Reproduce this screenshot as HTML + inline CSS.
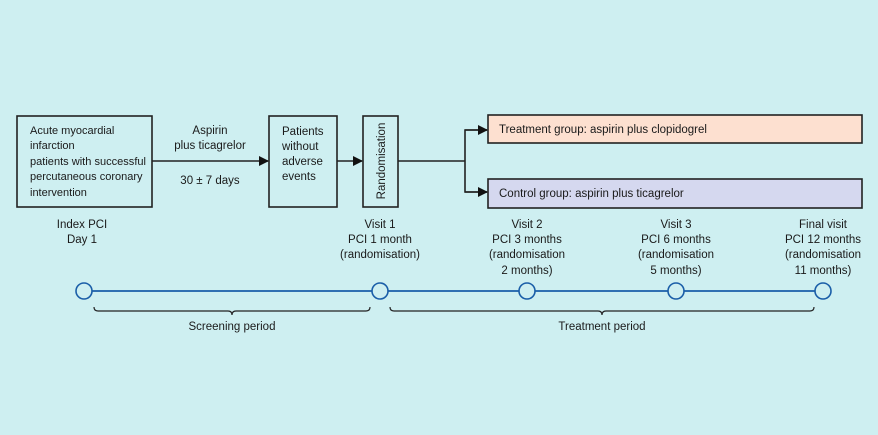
<!DOCTYPE html>
<html><head><meta charset="utf-8"><style>
html,body{margin:0;padding:0;background:#ceeff1;}
svg{display:block;}
text{font-family:"Liberation Sans",sans-serif;font-size:11.5px;fill:#1a1a1a;}
.s{font-size:11px;}
</style></head><body>
<svg width="878" height="435" viewBox="0 0 878 435" xmlns="http://www.w3.org/2000/svg">
<rect width="878" height="435" fill="#ceeff1"/>
<defs><marker id="a" markerWidth="10" markerHeight="10" refX="9" refY="5" orient="auto" markerUnits="userSpaceOnUse"><path d="M0,0 L10,5 L0,10 Z" fill="#111"/></marker></defs>
<g stroke="#222" stroke-width="1.6" fill="none">
<rect x="17" y="116" width="135" height="91"/>
<rect x="269" y="116" width="68" height="91"/>
<rect x="363" y="116" width="35" height="91"/>
<rect x="488" y="115" width="374" height="28" fill="#fde0d0"/>
<rect x="488" y="179" width="374" height="29" fill="#d5d8ef"/>
<line x1="152" y1="161" x2="268" y2="161" marker-end="url(#a)"/>
<line x1="337" y1="161" x2="362" y2="161" marker-end="url(#a)"/>
<line x1="398" y1="161" x2="465" y2="161"/>
<path d="M487,130 H465 V192 H487" />
<line x1="465" y1="130" x2="487" y2="130" marker-end="url(#a)"/>
<line x1="465" y1="192" x2="487" y2="192" marker-end="url(#a)"/>
</g>
<text class="s" x="30" y="134">Acute myocardial</text>
<text class="s" x="30" y="149">infarction</text>
<text class="s" x="30" y="165" textLength="116" lengthAdjust="spacingAndGlyphs">patients with successful</text>
<text class="s" x="30" y="180">percutaneous coronary</text>
<text class="s" x="30" y="196">intervention</text>
<g text-anchor="middle">
<text x="210" y="134">Aspirin</text>
<text x="210" y="149">plus ticagrelor</text>
<text x="210" y="184">30 ± 7 days</text>
</g>
<text x="282" y="135">Patients</text>
<text x="282" y="150">without</text>
<text x="282" y="165">adverse</text>
<text x="282" y="180">events</text>
<text transform="translate(385,161) rotate(-90)" text-anchor="middle">Randomisation</text>
<text x="499" y="133">Treatment group: aspirin plus clopidogrel</text>
<text x="499" y="197">Control group: aspirin plus ticagrelor</text>
<g text-anchor="middle">
<text x="82" y="228">Index PCI</text><text x="82" y="243">Day 1</text>
<text x="380" y="228">Visit 1</text><text x="380" y="243">PCI 1 month</text><text x="380" y="258">(randomisation)</text>
<text x="527" y="228">Visit 2</text><text x="527" y="243">PCI 3 months</text><text x="527" y="258">(randomisation</text><text x="527" y="274">2 months)</text>
<text x="676" y="228">Visit 3</text><text x="676" y="243">PCI 6 months</text><text x="676" y="258">(randomisation</text><text x="676" y="274">5 months)</text>
<text x="823" y="228">Final visit</text><text x="823" y="243">PCI 12 months</text><text x="823" y="258">(randomisation</text><text x="823" y="274">11 months)</text>
<text x="232" y="330">Screening period</text>
<text x="602" y="330">Treatment period</text>
</g>
<line x1="84" y1="291" x2="823" y2="291" stroke="#1a5ea8" stroke-width="1.8"/>
<g fill="#ceeff1" stroke="#1a5ea8" stroke-width="1.6">
<circle cx="84" cy="291" r="8"/><circle cx="380" cy="291" r="8"/><circle cx="527" cy="291" r="8"/><circle cx="676" cy="291" r="8"/><circle cx="823" cy="291" r="8"/>
</g>
<g stroke="#222" stroke-width="1.2" fill="none">
<path d="M94,307 Q94,311 98,311 H228 Q232,311 232,315 Q232,311 236,311 H366 Q370,311 370,307"/>
<path d="M390,307 Q390,311 394,311 H598 Q602,311 602,315 Q602,311 606,311 H810 Q814,311 814,307"/>
</g>
</svg>
</body></html>
